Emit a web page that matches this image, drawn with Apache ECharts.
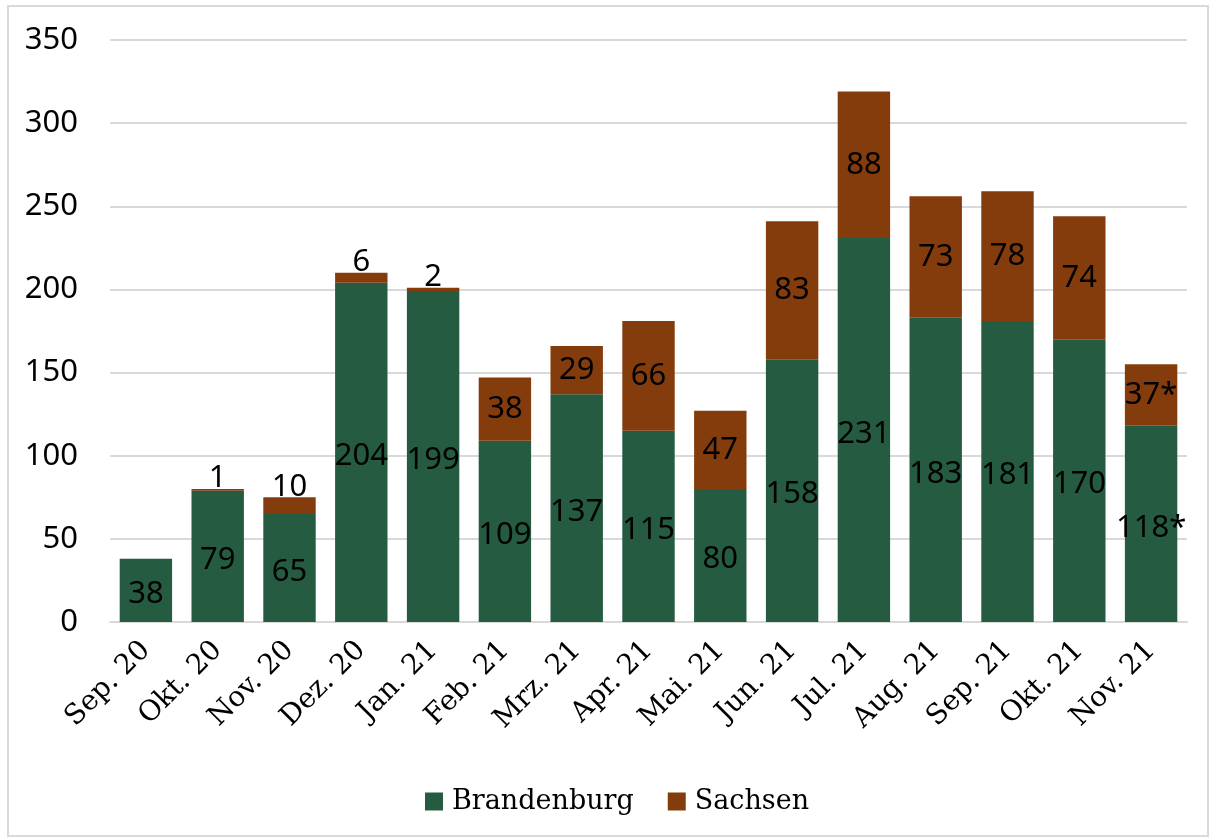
<!DOCTYPE html>
<html><head><meta charset="utf-8">
<script src="https://cdn.jsdelivr.net/npm/echarts@6/dist/echarts.min.js"></script>
<style>
html,body{margin:0;padding:0;background:#fff;}
#frame{position:absolute;left:7px;top:5px;width:1198px;height:828px;border:2px solid #d9d9d9;}
#c{position:absolute;left:0;top:0;width:1213px;height:840px;}
</style></head><body>
<div id="frame"></div>
<div id="c"></div>
<script>
const categories = ['Sep. 20','Okt. 20','Nov. 20','Dez. 20','Jan. 21','Feb. 21','Mrz. 21','Apr. 21','Mai. 21','Jun. 21','Jul. 21','Aug. 21','Sep. 21','Okt. 21','Nov. 21'];
const brandenburg = [38,79,65,204,199,109,137,115,80,158,231,183,181,170,118];
const sachsen = [0,1,10,6,2,38,29,66,47,83,88,73,78,74,37];
const brandenburgLabels = ['38','79','65','204','199','109','137','115','80','158','231','183','181','170','118*'];
const sachsenLabels = ['','1','10','6','2','38','29','66','47','83','88','73','78','74','37*'];
const yTicks = [0,50,100,150,200,250,300,350];

const numFont = '"Noto Sans", sans-serif';
const slabFont = '"DejaVu Serif", serif';

const chart = echarts.init(document.getElementById('c'));
chart.setOption({
  animation:false,
  grid:{left:110,right:26,top:40,bottom:218,containLabel:false},
  legend:{
    bottom:20,left:420,itemWidth:18,itemHeight:18,itemGap:34,
    icon:'rect',
    itemStyle:{borderWidth:0},
    textStyle:{fontFamily:slabFont,fontSize:27,color:'#000',padding:[0,0,0,4]},
    data:['Brandenburg','Sachsen']
  },
  xAxis:{
    type:'category',data:categories,
    axisLine:{lineStyle:{color:'#d9d9d9',width:2}},
    axisTick:{show:false},
    axisLabel:{rotate:45,fontFamily:slabFont,fontSize:28,color:'#000',margin:24,interval:0}
  },
  yAxis:{
    type:'value',min:yTicks[0],max:yTicks[yTicks.length-1],interval:50,
    axisLine:{show:false},axisTick:{show:false},
    splitLine:{lineStyle:{color:'#d9d9d9',width:2}},
    axisLabel:{fontFamily:numFont,fontSize:31,color:'#000',margin:32}
  },
  series:[
    {
      name:'Brandenburg',type:'bar',stack:'t',barCategoryGap:'27%',
      itemStyle:{color:'#255C41'},
      data:brandenburg.map((v,i)=>({value:v,label:{formatter:brandenburgLabels[i]}})),
      label:{show:true,position:'inside',fontFamily:numFont,fontSize:31,color:'#000',offset:[0,4]}
    },
    {
      name:'Sachsen',type:'bar',stack:'t',
      itemStyle:{color:'#843C0C'},
      data:sachsen.map((v,i)=>({value:v,label:{formatter:sachsenLabels[i],position:(v<15?'top':'inside'),distance:-5}})),
      label:{show:true,position:'inside',fontFamily:numFont,fontSize:31,color:'#000'}
    }
  ]
});
</script>
</body></html>
